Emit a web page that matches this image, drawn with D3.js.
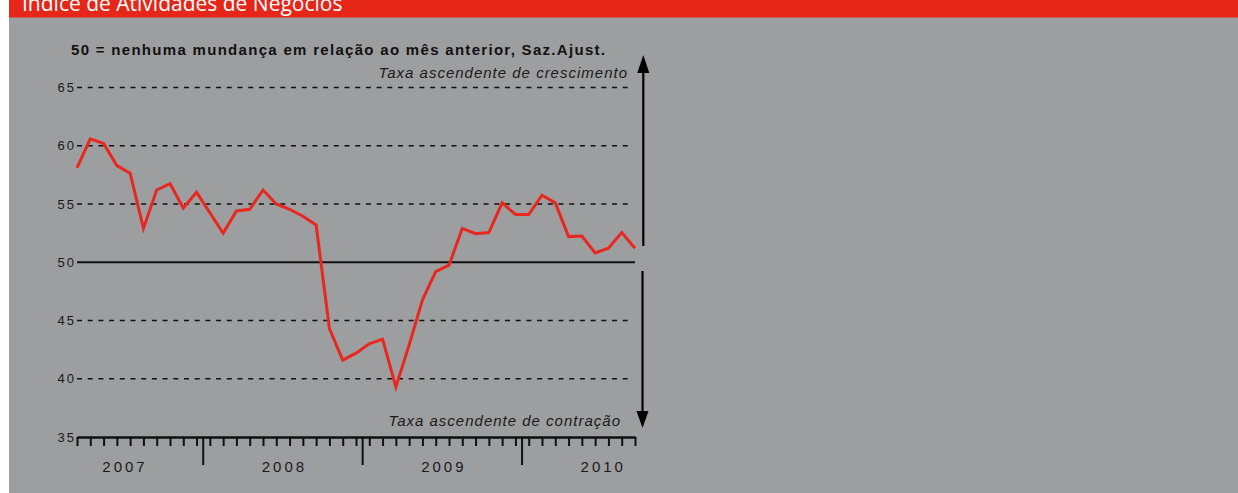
<!DOCTYPE html>
<html>
<head>
<meta charset="utf-8">
<script src="https://cdn.jsdelivr.net/npm/d3@7/dist/d3.min.js"></script>
<style>
  html, body { margin: 0; padding: 0; background: #ffffff; }
  svg { display: block; }
</style>
</head>
<body>
<svg id="chart" width="1238" height="493"></svg>
<script>
// ---------------- data ----------------
const title = "Índice de Atividades de Negócios";
const subtitle = "50 = nenhuma mundança em relação ao mês anterior, Saz.Ajust.";
const upLabel = "Taxa ascendente de crescimento";
const downLabel = "Taxa ascendente de contração";
const years = ["2007", "2008", "2009", "2010"];
const monthsPerYear = [10, 12, 12, 9];   // Mar 2007 .. Sep 2010
const yTicks = [35, 40, 45, 50, 55, 60, 65];
const values = [
  58.1, 60.6, 60.2, 58.3, 57.65, 52.9, 56.2, 56.75, 54.65, 56.0,
  54.25, 52.5, 54.4, 54.55, 56.2, 55.0, 54.55, 53.95, 53.2, 44.3, 41.6, 42.2,
  43.0, 43.4, 39.3, 42.9, 46.75, 49.2, 49.75, 52.9, 52.45, 52.55, 55.1, 54.1,
  54.1, 55.75, 55.1, 52.2, 52.25, 50.8, 51.2, 52.55, 51.2
];
// month categories (year-month keys)
const months = [];
years.forEach((yr, i) => {
  const start = i === 0 ? 12 - monthsPerYear[0] : 0;
  for (let m = 0; m < monthsPerYear[i]; m++) months.push(yr + "-" + String(start + m + 1).padStart(2, "0"));
});

// ---------------- drawing ----------------
const svg = d3.select("#chart");
const FONT = "'Liberation Sans', Arial, Helvetica, sans-serif";

// backgrounds
svg.append("rect").attr("x", 9).attr("y", 0).attr("width", 1229).attr("height", 493).attr("fill", "#9d9ea0");
svg.append("rect").attr("x", 9).attr("y", 0).attr("width", 1229).attr("height", 17.5).attr("fill", "#e52619");
svg.append("text").attr("x", 22).attr("y", 10.5)
  .attr("font-family", "'Open Sans', sans-serif").attr("font-size", 21)
  .attr("fill", "#ffffff").text(title);

const x = d3.scalePoint().domain(months).range([77, 635]);
const step = x.step();
const y = d3.scaleLinear().domain([35, 65]).range([437, 87.5]);

// gridlines
const g = svg.append("g");
g.selectAll("line.grid").data(yTicks.filter(v => v !== 35 && v !== 50)).join("line")
  .attr("class", "grid")
  .attr("x1", 77).attr("x2", 632)
  .attr("y1", d => y(d)).attr("y2", d => y(d))
  .attr("stroke", "#111").attr("stroke-width", 1.4)
  .attr("stroke-dasharray", "5,5.7");
g.append("line").attr("x1", 77).attr("x2", 635).attr("y1", y(50)).attr("y2", y(50))
  .attr("stroke", "#111").attr("stroke-width", 1.8);

// y labels
g.selectAll("text.ylab").data(yTicks).join("text")
  .attr("class", "ylab")
  .attr("x", 76).attr("y", d => y(d) + 4.7)
  .attr("text-anchor", "end")
  .attr("font-family", FONT).attr("font-size", 13)
  .attr("letter-spacing", 2).attr("fill", "#1a1a1a")
  .text(d => d);

// x axis (monthly ticks)
const xAxis = d3.axisBottom(x).tickSize(9).tickSizeOuter(0).tickFormat("");
const ax = svg.append("g").attr("transform", `translate(0,${y(35)})`).call(xAxis);
ax.select(".domain").attr("stroke", "#111").attr("stroke-width", 2.6);
ax.selectAll(".tick line").attr("stroke", "#111").attr("stroke-width", 2);

// year boundaries and labels
let idx = 0;
const yearInfo = years.map((yr, i) => {
  const firstMonth = i === 0 ? 12 - monthsPerYear[0] : 0;
  const janX = x(months[idx]) - firstMonth * step;
  idx += monthsPerYear[i];
  return { yr, janX, center: janX - step / 2 + 6 * step };
});
svg.selectAll("line.yb").data(yearInfo.slice(1)).join("line")
  .attr("class", "yb")
  .attr("x1", d => d.janX - step / 2).attr("x2", d => d.janX - step / 2)
  .attr("y1", y(35)).attr("y2", y(35) + 28)
  .attr("stroke", "#111").attr("stroke-width", 2);
svg.selectAll("text.yl").data(yearInfo).join("text")
  .attr("class", "yl")
  .attr("x", d => d.center + 1.5).attr("y", 471.5)
  .attr("text-anchor", "middle")
  .attr("font-family", FONT).attr("font-size", 15)
  .attr("letter-spacing", 3).attr("fill", "#1a1a1a")
  .text(d => d.yr);

// data line
const line = d3.line().x((d, i) => x(months[i])).y(d => y(d));
svg.append("path").datum(values)
  .attr("d", line)
  .attr("fill", "none").attr("stroke", "#e8281e")
  .attr("stroke-width", 3).attr("stroke-linejoin", "miter").attr("stroke-miterlimit", 6);

// subtitle & annotations
svg.append("text").attr("x", 71).attr("y", 55)
  .attr("font-family", FONT).attr("font-size", 15).attr("font-weight", "bold")
  .attr("fill", "#111").attr("textLength", 534).attr("lengthAdjust", "spacing")
  .text(subtitle);
svg.append("text").attr("x", 628).attr("y", 78)
  .attr("text-anchor", "end")
  .attr("font-family", FONT).attr("font-size", 15).attr("font-style", "italic")
  .attr("fill", "#1a1a1a").attr("letter-spacing", 1)
  .text(upLabel);
svg.append("text").attr("x", 621).attr("y", 426)
  .attr("text-anchor", "end")
  .attr("font-family", FONT).attr("font-size", 15).attr("font-style", "italic")
  .attr("fill", "#1a1a1a").attr("letter-spacing", 1)
  .text(downLabel);

// arrows
const ay = svg.append("g");
ay.append("line").attr("x1", 643.3).attr("x2", 643.3).attr("y1", 246).attr("y2", 70)
  .attr("stroke", "#000").attr("stroke-width", 2.2);
ay.append("path").attr("d", "M643.3,55 L649.3,73 L637.3,73 Z").attr("fill", "#000");
ay.append("line").attr("x1", 642.5).attr("x2", 642.5).attr("y1", 271).attr("y2", 414)
  .attr("stroke", "#000").attr("stroke-width", 2.2);
ay.append("path").attr("d", "M642.5,428 L648.5,411 L636.5,411 Z").attr("fill", "#000");
</script>
</body>
</html>
